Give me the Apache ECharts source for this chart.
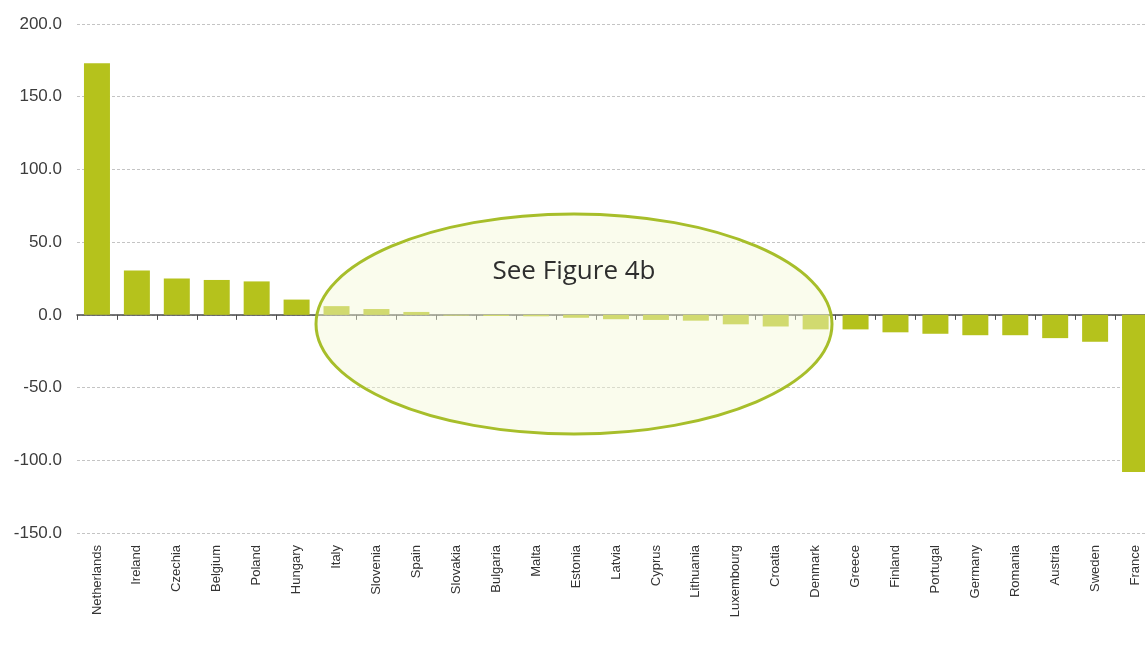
<!DOCTYPE html>
<html>
<head>
<meta charset="utf-8">
<script src="https://cdn.jsdelivr.net/npm/echarts@6/dist/echarts.min.js"></script>
<style>
  html, body { margin: 0; padding: 0; background: #ffffff; overflow: hidden; }
  #chart { width: 1145px; height: 648px; }
</style>
</head>
<body>
<div id="chart"></div>
<script>
// Countries, ordered from largest positive to largest negative value
const countries = [
  'Netherlands', 'Ireland', 'Czechia', 'Belgium', 'Poland', 'Hungary', 'Italy',
  'Slovenia', 'Spain', 'Slovakia', 'Bulgaria', 'Malta', 'Estonia', 'Latvia',
  'Cyprus', 'Lithuania', 'Luxembourg', 'Croatia', 'Denmark', 'Greece', 'Finland',
  'Portugal', 'Germany', 'Romania', 'Austria', 'Sweden', 'France'
];

const values = [
  173.0, 30.5, 25.0, 24.0, 23.0, 10.5, 6.0,
  4.0, 2.0, -0.5, -0.8, -1.0, -2.0, -3.0,
  -3.5, -4.0, -6.5, -8.0, -10.0, -10.0, -12.0,
  -13.0, -14.0, -14.0, -16.0, -18.5, -108.0
];

const yTicks = { min: -150, max: 200, interval: 50 };

const chart = echarts.init(document.getElementById('chart'), null, { renderer: 'canvas' });

chart.setOption({
  animation: false,
  backgroundColor: '#ffffff',
  // The plot runs slightly past the right edge, so France is cut off
  grid: {
    left: 77, width: 1078, top: 24, bottom: 115,
    containLabel: false,
    outerBoundsMode: 'none'
  },
  xAxis: [
    {
      type: 'category',
      data: countries,
      axisLine: { onZero: true, lineStyle: { color: '#4a4a4a', width: 1.5 } },
      axisTick: { show: true, interval: 0, length: 5, lineStyle: { color: '#4a4a4a' } },
      axisLabel: { show: false },
      splitLine: { show: false }
    },
    {
      type: 'category',
      data: countries,
      position: 'bottom',
      axisLine: { show: false, onZero: false },
      axisTick: { show: false },
      axisLabel: {
        rotate: 90,
        interval: 0,
        margin: 12,
        color: '#333333',
        fontFamily: 'Liberation Sans, Arial, sans-serif',
        fontSize: 13
      }
    }
  ],
  yAxis: {
    type: 'value',
    min: yTicks.min,
    max: yTicks.max,
    interval: yTicks.interval,
    axisLine: { show: false },
    axisTick: { show: false },
    axisLabel: {
      formatter: v => v.toFixed(1),
      color: '#3c3c3c',
      fontFamily: 'Liberation Sans, Arial, sans-serif',
      fontSize: 17,
      margin: 15
    },
    splitLine: { lineStyle: { color: '#c4c4c4', type: [3, 2], width: 1 } }
  },
  series: [
    {
      type: 'bar',
      xAxisIndex: 0,
      data: values,
      barWidth: 26,
      itemStyle: { color: '#b5c21c' },
      z: 2
    }
  ],
  graphic: [
    {
      // Highlight around the small values near zero
      type: 'ellipse',
      shape: { cx: 574, cy: 324, rx: 258, ry: 110 },
      style: { fill: 'rgba(245,248,215,0.45)', stroke: '#a7be2a', lineWidth: 3 },
      z: 100
    },
    {
      type: 'text',
      x: 574,
      y: 272,
      style: {
        text: 'See Figure 4b',
        fill: '#2e2e2e',
        font: '26px "Open Sans", sans-serif',
        textAlign: 'center',
        textVerticalAlign: 'middle'
      },
      z: 101
    }
  ]
});
</script>
</body>
</html>
